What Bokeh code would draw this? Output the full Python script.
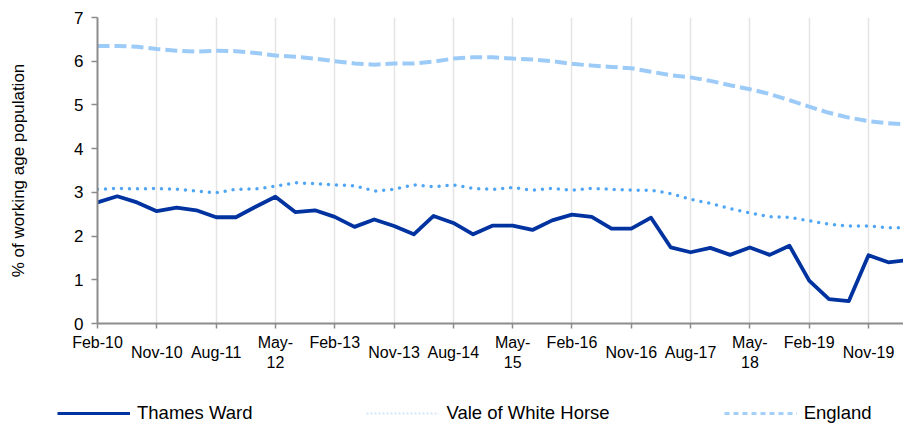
from bokeh.plotting import figure
from bokeh.layouts import column, row
from bokeh.models import Range1d, FixedTicker, Legend, LegendItem
from bokeh.embed import file_html
from bokeh.resources import INLINE

periods = ["Feb-10", "May-10", "Aug-10", "Nov-10", "Feb-11", "May-11", "Aug-11", "Nov-11",
           "Feb-12", "May-12", "Aug-12", "Nov-12", "Feb-13", "May-13", "Aug-13", "Nov-13",
           "Feb-14", "May-14", "Aug-14", "Nov-14", "Feb-15", "May-15", "Aug-15", "Nov-15",
           "Feb-16", "May-16", "Aug-16", "Nov-16", "Feb-17", "May-17", "Aug-17", "Nov-17",
           "Feb-18", "May-18", "Aug-18", "Nov-18", "Feb-19", "May-19", "Aug-19", "Nov-19",
           "Feb-20", "May-20"]

thames_ward = [2.77, 2.91, 2.77, 2.57, 2.65, 2.59, 2.43, 2.43, 2.67, 2.90, 2.55, 2.59,
               2.44, 2.21, 2.38, 2.23, 2.04, 2.46, 2.30, 2.04, 2.24, 2.24, 2.14, 2.36,
               2.49, 2.44, 2.17, 2.17, 2.42, 1.74, 1.63, 1.73, 1.57, 1.74, 1.57, 1.78,
               0.98, 0.56, 0.51, 1.56, 1.40, 1.45]

vale_of_white_horse = [3.07, 3.09, 3.08, 3.09, 3.07, 3.03, 2.99, 3.07, 3.08, 3.14, 3.22, 3.20,
                       3.17, 3.15, 3.03, 3.07, 3.17, 3.13, 3.17, 3.09, 3.07, 3.11, 3.05, 3.09,
                       3.05, 3.09, 3.07, 3.05, 3.05, 2.97, 2.84, 2.75, 2.63, 2.53, 2.44, 2.43,
                       2.35, 2.27, 2.23, 2.23, 2.19, 2.19]

england = [6.35, 6.35, 6.33, 6.28, 6.24, 6.22, 6.24, 6.23, 6.19, 6.13, 6.10, 6.06,
           6.00, 5.95, 5.92, 5.95, 5.95, 5.99, 6.06, 6.09, 6.09, 6.06, 6.04, 6.00,
           5.94, 5.90, 5.87, 5.84, 5.76, 5.68, 5.63, 5.55, 5.45, 5.36, 5.25, 5.11,
           4.96, 4.82, 4.71, 4.63, 4.58, 4.55]

series_names = ["Thames Ward", "Vale of White Horse", "England"]

tick_labels = ["Feb-10", "Nov-10", "Aug-11", "May-12", "Feb-13", "Nov-13", "Aug-14",
               "May-15", "Feb-16", "Nov-16", "Aug-17", "May-18", "Feb-19", "Nov-19"]

y_ticks = [0, 1, 2, 3, 4, 5, 6, 7]

xs = list(range(len(periods)))
tick_pos = [periods.index(t) for t in tick_labels]


def fmt(lbl):
    m, y = lbl.split("-")
    if m == "May":
        return "May-\n\n" + y
    if m in ("Nov", "Aug"):
        return "\n" + lbl
    return lbl


FONT = "Liberation Sans"
AXIS_COLOR = "#8c8c8c"
C_TW = "#0033a0"
C_VALE = "#4fa6f5"
C_ENG = "#9dcbf7"

p = figure(width=903, height=390, output_backend="svg", toolbar_location=None,
           x_range=Range1d(0, 40.77), y_range=Range1d(0, 7),
           min_border_left=97, min_border_right=0, min_border_top=17, min_border_bottom=67)
p.outline_line_color = None
p.background_fill_color = "white"
p.border_fill_color = "white"

xa = p.xaxis[0]
xa.ticker = FixedTicker(ticks=tick_pos, minor_ticks=[])
xa.major_label_overrides = {i: fmt(t) for i, t in zip(tick_pos, tick_labels)}
xa.axis_line_color = AXIS_COLOR
xa.axis_line_width = 2
xa.major_tick_line_color = AXIS_COLOR
xa.major_tick_line_width = 1.5
xa.major_tick_out = 5
xa.major_tick_in = 0
xa.minor_tick_out = 0
xa.minor_tick_in = 0
xa.major_label_text_font = FONT
xa.major_label_text_font_size = "16px"
xa.major_label_text_color = "#000000"
xa.major_label_standoff = 5
xa.major_label_text_line_height = 0.6

ya = p.yaxis[0]
ya.ticker = FixedTicker(ticks=y_ticks, minor_ticks=[])
ya.axis_line_color = AXIS_COLOR
ya.axis_line_width = 2
ya.major_tick_line_color = AXIS_COLOR
ya.major_tick_line_width = 1.5
ya.major_tick_out = 6
ya.major_tick_in = 0
ya.minor_tick_out = 0
ya.minor_tick_in = 0
ya.major_label_text_font = FONT
ya.major_label_text_font_size = "17px"
ya.major_label_text_color = "#000000"
ya.major_label_standoff = 8
ya.axis_label = "% of working age population"
ya.axis_label_text_font = FONT
ya.axis_label_text_font_size = "17px"
ya.axis_label_text_font_style = "normal"
ya.axis_label_text_color = "#000000"
ya.axis_label_standoff = 43

p.ygrid.visible = False
p.xgrid.ticker = FixedTicker(ticks=tick_pos, minor_ticks=[])
p.xgrid.grid_line_color = "#e4e4e4"
p.xgrid.grid_line_width = 1.5

p.line(xs, england, line_color=C_ENG, line_width=4, line_dash="12 5")
p.line(xs, vale_of_white_horse, line_color=C_VALE, line_width=3.5,
       line_dash="0 8", line_cap="round")
p.line(xs, thames_ward, line_color=C_TW, line_width=3.8, line_join="round")

# legend strip below the chart; its key lines use the same series but lie outside this strip's view
lg = figure(width=903, height=35, output_backend="svg", toolbar_location=None,
            x_range=Range1d(0, 1), y_range=Range1d(-20, -19),
            min_border_left=0, min_border_right=0, min_border_top=0, min_border_bottom=0)
lg.axis.visible = False
lg.grid.visible = False
lg.outline_line_color = None
lg.border_fill_color = "white"
lg.background_fill_color = "white"
k_tw = lg.line(xs, thames_ward, line_color=C_TW, line_width=3)
k_vale = lg.line(xs, vale_of_white_horse, line_color="#d3e6f8", line_width=2, line_dash="2 2")
k_eng = lg.line(xs, england, line_color="#a3cff9", line_width=3, line_dash="5 4")

legend = Legend(items=[LegendItem(label=series_names[0], renderers=[k_tw]),
                       LegendItem(label=series_names[1], renderers=[k_vale]),
                       LegendItem(label=series_names[2], renderers=[k_eng])],
                orientation="horizontal", location=(57, 1),
                glyph_width=73, glyph_height=20, label_standoff=7, spacing=114,
                padding=0, margin=0, border_line_color=None, background_fill_alpha=0,
                label_text_font=FONT, label_text_font_size="18.5px", label_text_color="#000000")
lg.add_layout(legend)

layout = column(p, row(lg), spacing=0)
open("out.html", "w").write(file_html(layout, INLINE))
